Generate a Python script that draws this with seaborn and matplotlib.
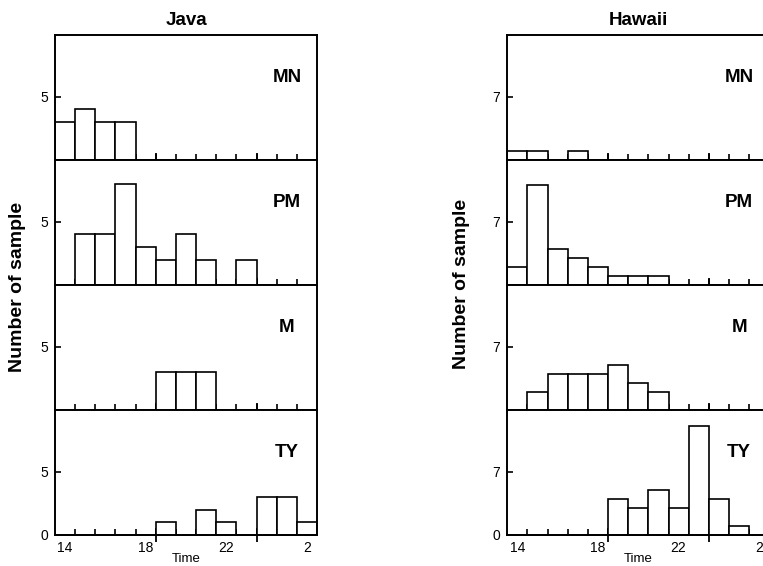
import matplotlib
matplotlib.use("Agg")
import matplotlib.pyplot as plt
import numpy as np
import pandas as pd
import seaborn as sns

# hour bins (24, 25, 26 = 0, 1, 2 h of the next day)
hours = [14, 15, 16, 17, 18, 19, 20, 21, 22, 23, 24, 25, 26]
hour_ticks = [14, 18, 22, 26]
hour_labels = ["14", "18", "22", "2"]
types = ["MN", "PM", "M", "TY"]

java_mn = [3, 4, 3, 3, 0, 0, 0, 0, 0, 0, 0, 0, 0]
java_pm = [0, 4, 4, 8, 3, 2, 4, 2, 0, 2, 0, 0, 0]
java_m = [0, 0, 0, 0, 0, 3, 3, 3, 0, 0, 0, 0, 0]
java_ty = [0, 0, 0, 0, 0, 1, 0, 2, 1, 0, 3, 3, 1]

hawaii_mn = [1, 1, 0, 1, 0, 0, 0, 0, 0, 0, 0, 0, 0]
hawaii_pm = [2, 11, 4, 3, 2, 1, 1, 1, 0, 0, 0, 0, 0]
hawaii_m = [0, 2, 4, 4, 4, 5, 3, 2, 0, 0, 0, 0, 0]
hawaii_ty = [0, 0, 0, 0, 0, 4, 3, 5, 3, 12, 4, 1, 0]

sites = {
    "Java": {"counts": [java_mn, java_pm, java_m, java_ty], "ytick": 5, "ymax": 9.9},
    "Hawaii": {"counts": [hawaii_mn, hawaii_pm, hawaii_m, hawaii_ty], "ytick": 7, "ymax": 13.8},
}

sns.set_style("ticks")
plt.rcParams["font.family"] = ["Liberation Sans", "DejaVu Sans"]
plt.rcParams["axes.linewidth"] = 1.4
for key in ("text.color", "axes.labelcolor", "xtick.color", "ytick.color",
            "axes.edgecolor"):
    plt.rcParams[key] = "black"

W, H = 763, 566
fig = plt.figure(figsize=(W / 100, H / 100), dpi=100)

lefts = {"Java": 55, "Hawaii": 507.3}
ax_w = 262
top = 35
panel_h = 125

for site, info in sites.items():
    for i, (kind, counts) in enumerate(zip(types, info["counts"])):
        y0 = top + panel_h * (i + 1)
        ax = fig.add_axes([lefts[site] / W, 1 - y0 / H, ax_w / W, panel_h / H])
        df = pd.DataFrame({"hour": hours, "count": counts})
        sns.barplot(data=df, x="hour", y="count", native_scale=True, width=1,
                    color="white", edgecolor="black", linewidth=1.2,
                    errorbar=None, ax=ax)
        ax.set_xlim(13.5, 26.5)
        ax.set_ylim(0, info["ymax"])
        for s in ax.spines.values():
            s.set_visible(True)
            s.set_color("black")

        bottom = i == len(types) - 1
        # x: labels at bin centres, small ticks at bin edges
        ax.set_xticks(hour_ticks)
        ax.set_xticklabels(hour_labels if bottom else [])
        ax.tick_params(axis="x", which="major", length=0, pad=4, labelsize=10,
                       labelbottom=bottom)
        edges = [h + 0.5 for h in hours[:-1]]
        ax.set_xticks(edges, minor=True)
        ax.tick_params(axis="x", which="minor", direction="in", length=4.3,
                       width=1.2, color="black")
        sec = ax.secondary_xaxis("bottom")
        sec.set_xticks([18.5, 23.5])
        sec.tick_params(direction="inout", length=10, width=1.3, color="black",
                        labelbottom=False)
        sec.spines["bottom"].set_linewidth(1.4)

        yt = [0, info["ytick"]] if bottom else [info["ytick"]]
        ax.set_yticks(yt)
        ax.tick_params(axis="y", direction="in", length=4.3, width=1.2, pad=5,
                       labelsize=10, color="black")
        ax.set_xlabel("Time" if bottom else "", fontsize=9.5, labelpad=-1)
        ax.set_ylabel("")
        ax.text(0.885, 0.66, kind, transform=ax.transAxes, ha="center",
                va="center", fontsize=13.5, fontweight="bold")
        if i == 0:
            ax.set_title(site, fontsize=13.5, fontweight="bold", pad=7)

fig.text(18 / W, 1 - 287 / H, "Number of sample", rotation=90, ha="center",
         va="center", fontsize=14, fontweight="bold")
fig.text(462 / W, 1 - 284 / H, "Number of sample", rotation=90, ha="center",
         va="center", fontsize=14, fontweight="bold")

fig.savefig("out.png", dpi=100)
